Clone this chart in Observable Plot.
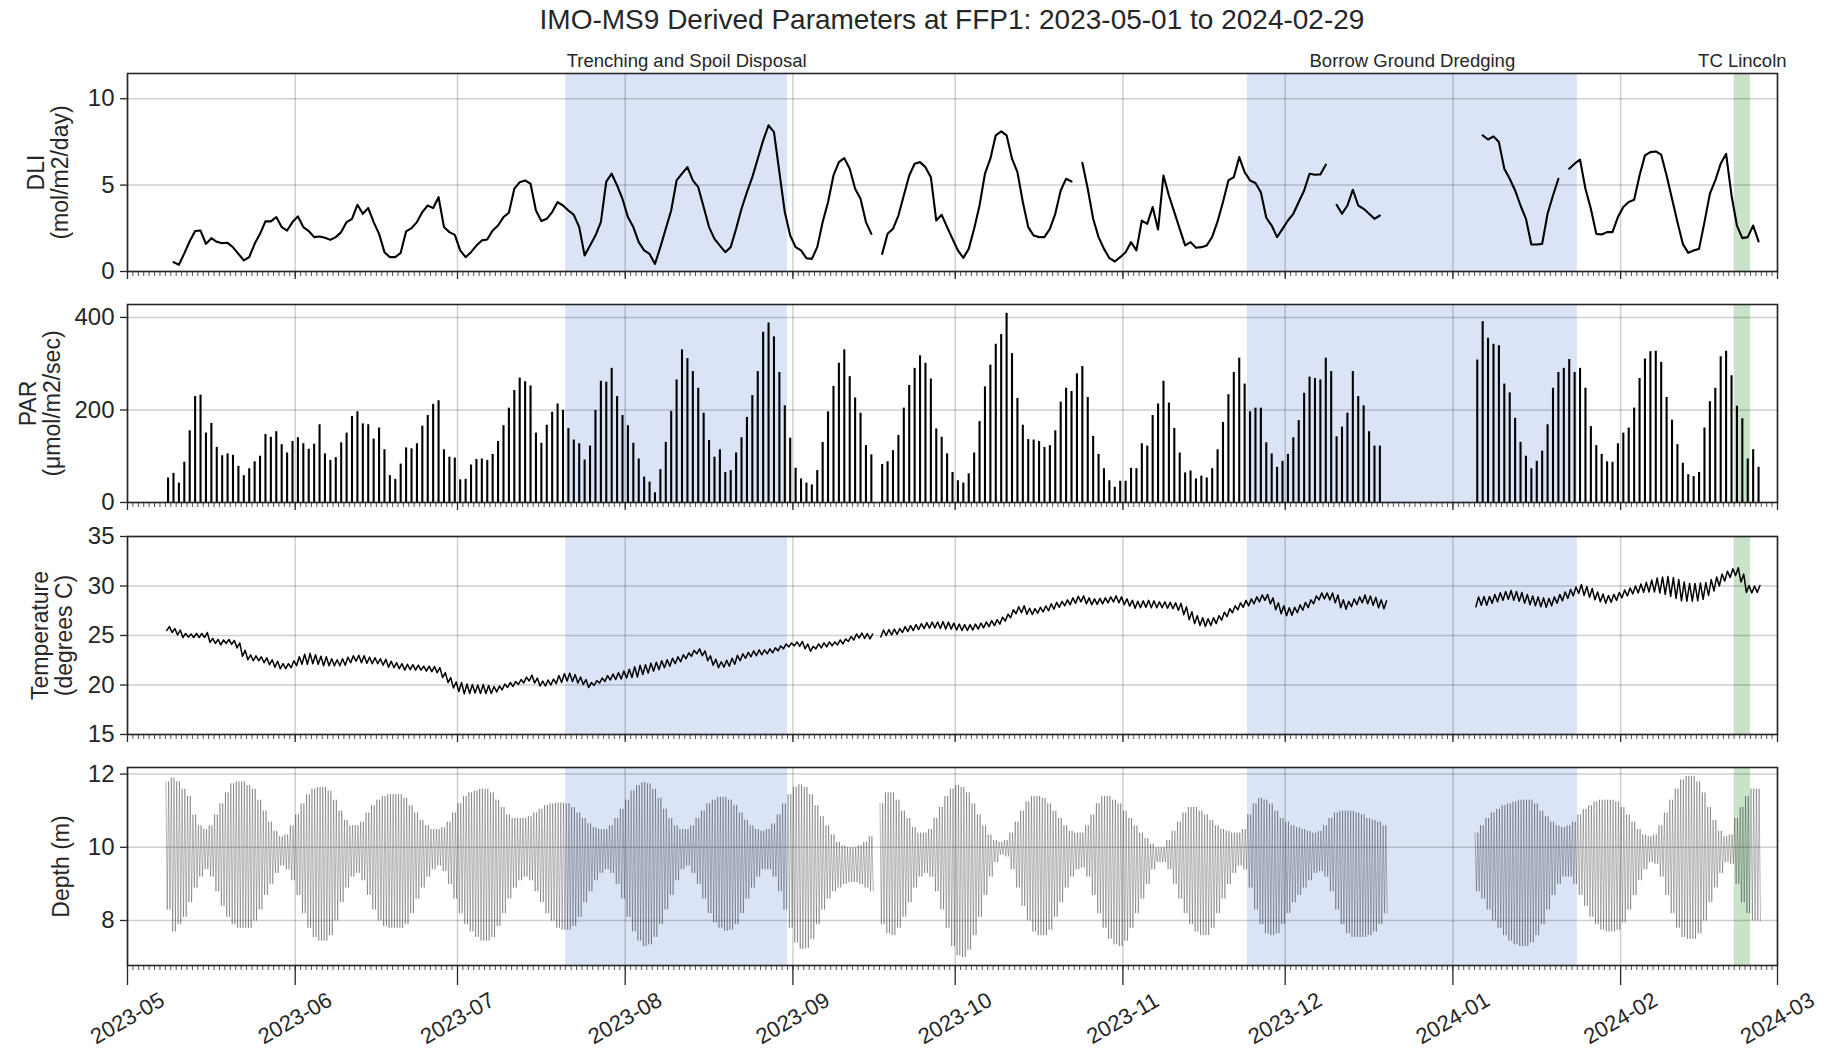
<!DOCTYPE html>
<html><head><meta charset="utf-8">
<script src="https://cdn.jsdelivr.net/npm/d3@7"></script>
<script src="https://cdn.jsdelivr.net/npm/@observablehq/plot@0.6"></script>
<style>
body{margin:0;background:#fff;font-family:"Liberation Sans",Arial,sans-serif;}
#wrap{position:relative;width:1827px;height:1049px;background:#fff;}
#title{position:absolute;left:127px;width:1650px;top:6px;text-align:center;font-size:28px;line-height:28px;color:#262626;}
.panel{position:absolute;left:0;}
</style></head><body><div id="wrap"><div id="title">IMO-MS9 Derived Parameters at FFP1: 2023-05-01 to 2024-02-29</div></div>
<script>
// ---------------- data ----------------
const xStart = "2023-05-01", xEnd = "2024-03-01";
const monthTicks = ["2023-05","2023-06","2023-07","2023-08","2023-09","2023-10","2023-11","2023-12","2024-01","2024-02","2024-03"];
const dliTicks = [0, 5, 10];
const parTicks = [0, 200, 400];
const tempTicks = [15, 20, 25, 30, 35];
const depthTicks = [8, 10, 12];

const periodNames = ["Trenching and Spoil Disposal", "Borrow Ground Dredging", "TC Lincoln"];
const periodStarts = ["2023-07-21", "2023-11-24", "2024-02-22"];
const periodEnds = ["2023-08-31", "2024-01-24", "2024-02-25"];
const periodKinds = ["works", "works", "cyclone"];

// daily light integral, one value per day from 2023-05-09
const dliStart = "2023-05-09";
const dli = [
0.54,0.39,1.05,1.75,2.34,2.37,1.6,1.93,1.72,1.64,
1.66,1.4,1.02,0.64,0.83,1.6,2.18,2.9,2.9,3.15,
2.57,2.37,2.86,3.19,2.57,2.34,1.99,2.03,1.95,1.83,
1.99,2.28,2.86,3.05,3.86,3.34,3.67,2.86,2.18,1.12,
0.83,0.83,1.08,2.32,2.51,2.86,3.44,3.82,3.67,4.3,
2.57,2.28,2.12,1.22,0.83,1.12,1.5,1.8,1.85,2.37,
2.66,3.15,3.4,4.79,5.17,5.27,5.08,3.53,2.92,3.05,
3.44,4.02,3.82,3.53,3.28,2.57,0.93,1.5,2.08,2.86,
5.2,5.66,4.98,4.2,3.15,2.57,1.7,1.22,1.02,0.44,
1.41,2.47,3.53,5.27,5.66,6.04,5.27,4.88,3.73,2.57,
1.89,1.5,1.12,1.41,2.47,3.63,4.59,5.46,6.53,7.59,
8.46,8.07,5.75,3.44,2.08,1.41,1.22,0.77,0.73,1.41,
2.86,4.02,5.56,6.33,6.56,5.95,4.79,4.21,2.86,2.18,
null,1.02,2.18,2.47,3.24,4.4,5.56,6.24,6.33,6.04,
5.46,2.95,3.28,2.57,1.89,1.22,0.79,1.31,2.47,3.82,
5.66,6.53,7.88,8.11,7.88,6.53,5.75,4.02,2.57,2.08,
1.99,1.99,2.47,3.34,4.69,5.37,5.21,null,6.29,4.79,
3.05,1.99,1.31,0.77,0.58,0.83,1.12,1.7,1.22,2.95,
2.76,3.73,2.43,5.56,4.4,3.44,2.47,1.51,1.7,1.37,
1.41,1.51,2.0,2.9,4.02,5.27,5.46,6.62,5.75,5.27,
5.12,4.59,3.11,2.66,1.99,2.47,2.95,3.34,4.02,4.69,
5.66,5.6,5.62,6.18,null,3.86,3.34,3.82,4.73,3.82,
3.63,3.34,3.05,3.24,null,null,null,null,null,null,
null,null,null,null,null,null,null,null,null,null,
null,null,7.88,7.64,7.82,7.49,5.95,5.37,4.69,3.82,
3.05,1.56,1.56,1.6,3.34,4.4,5.37,null,5.95,6.24,
6.47,4.79,3.63,2.18,2.14,2.28,2.28,3.15,3.73,4.02,
4.15,5.56,6.72,6.91,6.95,6.76,5.56,4.21,2.86,1.6,
1.08,1.22,1.31,2.86,4.5,5.27,6.24,6.81,4.4,2.66,
1.93,1.99,2.66,1.74
];

// the following series have one entry per day from 2023-05-08
const seriesStart = "2023-05-08";
// daily PAR peak (umol/m2/sec)
const parPeak = [
53,63,42,87,155,229,232,150,171,119,
101,105,102,78,58,73,88,100,147,141,
153,125,107,132,140,127,115,126,168,105,
91,97,129,150,186,196,170,168,137,161,
114,58,50,83,118,116,127,165,188,212,
220,114,98,96,49,50,81,93,94,91,
104,132,166,204,242,269,261,252,150,128,
167,195,213,199,160,135,127,92,122,199,
262,260,290,229,188,166,128,94,55,44,
21,71,130,197,265,330,311,283,247,193,
134,98,114,65,69,107,140,184,231,283,
368,388,358,281,209,139,74,51,42,38,
69,130,196,251,301,330,272,226,193,123,
103,null,82,88,112,145,204,253,290,317,
301,267,159,141,105,65,47,42,62,107,
175,250,297,342,363,409,322,225,167,136,
135,132,119,123,155,217,247,240,278,294,
227,143,104,73,47,33,46,46,74,73,
127,122,188,213,262,215,160,107,64,68,
51,57,53,73,114,173,233,281,312,256,
196,204,204,129,105,76,89,104,140,177,
236,271,268,265,312,283,142,163,193,283,
229,209,153,122,122,null,null,null,null,null,
null,null,null,null,null,null,null,null,null,null,
null,null,308,391,355,342,339,256,237,182,
130,100,73,89,111,168,247,281,290,309,
281,290,247,164,123,104,88,87,127,150,
161,204,268,310,326,327,303,227,178,125,
85,60,56,65,161,218,247,315,327,274,
208,181,94,114,76
];
// daily mean water temperature (degrees C)
const tempMean = [
25.7,25.5,25.3,25.0,25.0,25.0,25.0,25.05,24.5,24.4,
24.3,24.4,24.3,24.0,23.2,22.8,22.7,22.65,22.5,22.3,
22.1,21.9,21.9,22.1,22.4,22.6,22.65,22.6,22.5,22.4,
22.3,22.25,22.3,22.4,22.6,22.7,22.6,22.5,22.45,22.4,
22.3,22.1,22.0,21.9,21.8,21.8,21.75,21.7,21.65,21.6,
21.5,21.0,20.5,20.0,19.8,19.6,19.6,19.6,19.6,19.55,
19.5,19.6,19.8,20.0,20.1,20.3,20.5,20.7,20.45,20.15,
20.2,20.3,20.55,20.7,20.8,20.7,20.5,20.3,20.0,20.2,
20.45,20.65,20.8,20.9,21.0,21.15,21.3,21.4,21.55,21.7,
21.85,22.0,22.15,22.3,22.5,22.7,22.95,23.2,23.4,23.2,
22.7,22.3,22.05,22.15,22.3,22.55,22.8,23.0,23.15,23.25,
23.3,23.4,23.5,23.7,23.9,24.05,24.15,24.15,23.9,23.65,
23.9,24.0,24.1,24.15,24.3,24.4,24.65,24.85,25.0,24.95,
24.9,null,25.2,25.3,25.35,25.4,25.6,25.7,25.8,25.9,
26.0,26.05,26.07,26.05,26.0,25.95,25.85,25.8,25.8,25.85,
25.95,26.07,26.2,26.3,26.5,26.8,27.2,27.55,27.65,27.45,
27.42,27.55,27.68,27.85,28.0,28.15,28.3,28.45,28.6,28.7,
28.5,28.4,28.45,28.5,28.6,28.7,28.6,28.4,28.25,28.1,
28.15,28.2,28.15,28.1,28.1,28.05,28.0,27.9,27.5,27.0,
26.6,26.4,26.3,26.4,26.6,26.95,27.3,27.65,27.95,28.2,
28.35,28.55,28.75,28.85,28.5,27.95,27.6,27.4,27.45,27.7,
27.95,28.2,28.6,28.95,29.0,28.95,28.7,28.2,28.05,28.3,
28.5,28.7,28.6,28.45,28.2,28.1,null,null,null,null,
null,null,null,null,null,null,null,null,null,null,
null,null,28.4,28.5,28.5,28.7,28.86,29.0,29.1,29.0,
28.9,28.7,28.55,28.45,28.35,28.3,28.45,28.7,28.95,29.2,
29.45,29.7,29.5,29.3,29.0,28.8,28.65,28.75,28.95,29.2,
29.4,29.6,29.75,29.87,30.0,30.1,30.1,30.05,29.9,29.7,
29.45,29.36,29.36,29.4,29.5,29.85,30.2,30.6,31.0,31.3,
31.45,30.8,29.7,29.65,29.7
];
// daily temperature swing (max - min, degrees C)
const tempSwing = [
0.4,0.4,0.5,0.4,0.3,0.4,0.4,0.5,0.4,0.4,
0.5,0.4,0.4,0.5,0.6,0.5,0.5,0.4,0.5,0.5,
0.6,0.5,0.5,0.7,0.9,1.0,1.1,0.9,0.8,0.9,
0.7,0.6,0.7,0.8,0.7,0.6,0.7,0.6,0.6,0.5,
0.6,0.6,0.5,0.5,0.6,0.5,0.5,0.4,0.5,0.5,
0.5,0.5,0.5,0.6,0.9,1.0,0.9,0.8,0.9,0.8,
0.7,0.6,0.6,0.5,0.5,0.5,0.6,0.6,0.5,0.5,
0.6,0.6,0.8,0.9,0.8,0.7,0.6,0.5,0.5,0.5,
0.5,0.6,0.6,0.7,0.8,0.9,1.1,1.2,1.0,1.0,
0.9,0.9,0.8,0.8,0.7,0.7,0.6,0.6,0.5,0.5,
0.5,0.6,0.6,0.7,0.8,0.9,0.7,0.6,0.6,0.6,
0.5,0.5,0.5,0.5,0.5,0.4,0.4,0.5,0.5,0.5,
0.5,0.5,0.5,0.4,0.5,0.5,0.5,0.6,0.5,0.5,
0.5,null,0.7,0.6,0.6,0.6,0.6,0.6,0.6,0.6,
0.6,0.6,0.6,0.7,0.7,0.6,0.6,0.6,0.6,0.6,
0.6,0.6,0.6,0.6,0.7,0.7,0.8,0.7,0.7,0.6,
0.6,0.6,0.6,0.7,0.7,0.6,0.6,0.7,0.7,0.6,
0.6,0.6,0.6,0.6,0.6,0.6,0.6,0.6,0.6,0.7,
0.7,0.7,0.7,0.6,0.6,0.6,0.6,0.7,0.8,0.8,
0.8,0.8,0.8,0.8,0.8,0.8,0.8,0.7,0.7,0.7,
0.7,0.7,0.7,0.6,0.6,0.7,0.8,0.8,0.8,0.8,
0.8,0.8,0.8,0.7,0.6,0.7,0.8,0.8,0.8,0.8,
0.8,0.8,0.8,0.8,0.8,0.8,null,null,null,null,
null,null,null,null,null,null,null,null,null,null,
null,null,1.0,0.9,0.9,0.9,0.9,0.9,0.9,0.9,
0.9,0.9,0.9,0.9,0.9,0.9,0.9,0.9,0.9,0.9,
0.9,0.9,0.9,0.9,0.8,0.8,0.8,0.8,0.8,0.8,
0.8,0.8,0.9,1.0,1.2,1.4,1.6,1.8,1.9,1.9,
1.9,1.8,1.8,1.8,1.7,1.6,1.4,1.2,1.0,0.9,
0.8,0.8,0.7,0.7,0.7
];
// daily high-water depth (m)
const depthHigh = [
11.8,11.9,11.8,11.6,11.4,10.9,10.6,10.5,10.6,10.9,
11.2,11.5,11.75,11.8,11.8,11.7,11.6,11.3,11.0,10.7,
10.45,10.3,10.35,10.6,10.9,11.2,11.45,11.6,11.65,11.65,
11.55,11.3,11.0,10.75,10.6,10.6,10.7,10.95,11.15,11.3,
11.4,11.45,11.45,11.45,11.35,11.15,10.95,10.75,10.6,10.5,
10.5,10.55,10.7,10.95,11.2,11.4,11.5,11.55,11.6,11.6,
11.5,11.3,11.1,10.9,10.8,10.8,10.8,10.85,10.95,11.05,
11.15,11.2,11.22,11.22,11.2,11.1,10.95,10.8,10.65,10.55,
10.5,10.5,10.6,10.8,11.05,11.3,11.55,11.7,11.78,11.75,
11.6,11.35,11.05,10.8,10.6,10.5,10.5,10.6,10.8,11.0,
11.2,11.3,11.38,11.38,11.3,11.15,10.95,10.75,10.6,10.5,
10.45,10.5,10.65,10.9,11.2,11.45,11.65,11.72,11.65,11.45,
11.15,10.85,10.6,10.35,10.15,10.05,10.0,10.0,10.05,10.15,
10.3,null,11.2,11.5,11.5,11.3,11.0,10.8,10.55,10.4,
10.4,10.5,10.8,11.1,11.4,11.6,11.7,11.65,11.5,11.2,
10.9,10.6,10.35,10.2,10.15,10.2,10.4,10.7,11.0,11.25,
11.4,11.4,11.35,11.2,11.0,10.8,10.6,10.45,10.4,10.4,
10.6,10.9,11.2,11.4,11.4,11.3,11.2,11.0,10.8,10.6,
10.4,10.25,10.1,10.0,10.0,10.2,10.45,10.7,10.95,11.1,
11.1,11.0,10.9,10.75,10.6,10.5,10.45,10.4,10.4,10.5,
10.9,11.2,11.35,11.3,11.2,11.0,10.8,10.7,10.6,10.55,
10.5,10.45,10.4,10.45,10.6,10.8,10.95,11.0,11.0,11.0,
10.95,10.9,10.8,10.75,10.7,10.6,null,null,null,null,
null,null,null,null,null,null,null,null,null,null,
null,null,10.4,10.6,10.8,10.95,11.05,11.15,11.2,11.25,
11.3,11.3,11.3,11.2,11.0,10.85,10.7,10.6,10.55,10.6,
10.7,10.9,11.05,11.15,11.25,11.3,11.3,11.3,11.25,11.1,
10.9,10.7,10.5,10.35,10.3,10.35,10.6,10.95,11.3,11.6,
11.85,11.95,11.95,11.8,11.5,11.1,10.75,10.45,10.3,10.35,
10.8,11.1,11.4,11.6,11.6
];
// daily low-water depth (m)
const depthLow = [
8.3,7.7,7.9,8.1,8.5,8.9,9.2,9.4,9.2,8.8,
8.4,8.1,7.9,7.8,7.8,7.8,8.0,8.3,8.7,9.0,
9.3,9.5,9.4,9.1,8.7,8.2,7.8,7.55,7.45,7.45,
7.6,8.0,8.5,8.9,9.2,9.3,9.1,8.7,8.3,8.0,
7.85,7.8,7.8,7.8,7.9,8.2,8.6,8.9,9.2,9.4,
9.5,9.35,9.0,8.6,8.2,7.9,7.7,7.55,7.45,7.45,
7.55,7.85,8.2,8.6,8.9,9.1,9.2,9.1,8.8,8.5,
8.2,8.0,7.8,7.75,7.75,7.85,8.1,8.5,8.8,9.1,
9.3,9.4,9.3,9.0,8.6,8.1,7.7,7.45,7.3,7.35,
7.55,7.9,8.3,8.7,9.1,9.4,9.5,9.3,9.0,8.6,
8.2,7.95,7.8,7.72,7.75,7.9,8.2,8.6,8.9,9.2,
9.4,9.4,9.2,8.8,8.3,7.8,7.4,7.22,7.25,7.5,
7.9,8.3,8.6,8.8,8.9,9.0,9.05,9.05,9.0,8.9,
8.8,null,7.9,7.65,7.6,7.8,8.1,8.5,8.9,9.2,
9.3,9.2,8.8,8.3,7.8,7.3,7.05,7.0,7.2,7.6,
8.1,8.7,9.2,9.6,9.8,9.75,9.4,8.9,8.4,8.0,
7.7,7.6,7.6,7.75,8.1,8.5,8.9,9.2,9.4,9.45,
9.2,8.7,8.2,7.8,7.5,7.35,7.3,7.45,7.8,8.2,
8.6,9.0,9.4,9.6,9.6,9.4,9.0,8.6,8.2,7.9,
7.7,7.6,7.6,7.8,8.2,8.6,9.0,9.3,9.5,9.4,
8.9,8.3,7.9,7.65,7.6,7.65,7.9,8.2,8.5,8.7,
8.9,9.1,9.3,9.35,9.2,8.8,8.3,7.9,7.65,7.55,
7.55,7.55,7.6,7.7,7.9,8.2,null,null,null,null,
null,null,null,null,null,null,null,null,null,null,
null,null,8.8,8.6,8.3,8.0,7.8,7.6,7.45,7.35,
7.3,7.3,7.4,7.6,7.9,8.3,8.7,9.0,9.2,9.2,
9.0,8.7,8.4,8.1,7.9,7.75,7.7,7.7,7.75,7.95,
8.3,8.7,9.1,9.4,9.6,9.55,9.2,8.7,8.2,7.8,
7.55,7.5,7.5,7.65,8.0,8.5,8.9,9.3,9.6,9.55,
9.0,8.5,8.2,8.0,8.0
];

// ---------------- build ----------------
const parseDay = d3.utcParse("%Y-%m-%d");
const parseMonth = d3.utcParse("%Y-%m");
const addDays = (date, n) => new Date(+date + n * 864e5);
const x0 = parseDay(xStart), x1 = parseDay(xEnd);
const months = monthTicks.map(parseMonth);
const days = d3.utcDay.range(x0, addDays(x1, 1));
const dS = parseDay(dliStart), sS = parseDay(seriesStart);

const periods = periodNames.map((name, i) => {
  const s = parseDay(periodStarts[i]), e = parseDay(periodEnds[i]);
  return {name, kind: periodKinds[i], start: s, end: e, mid: new Date((+s + +e) / 2)};
});

const dliData = dli.map((v, i) => ({date: addDays(dS, i + 0.5), value: v}));
const parData = parPeak.map((v, i) => ({date: addDays(sS, i + 0.5), value: v})).filter(d => d.value != null);
const tempData = tempMean.flatMap((m, i) => m == null
  ? [{date: addDays(sS, i + 0.25), value: null}]
  : [{date: addDays(sS, i + 0.25), value: m - tempSwing[i] / 2}, {date: addDays(sS, i + 0.75), value: m + tempSwing[i] / 2}]);
// two tides a day, each drawn with that day's high and low water
const depthData = depthHigh.flatMap((h, i) => h == null
  ? [{date: addDays(sS, i + 0.1), value: null}]
  : [{date: addDays(sS, i + 0.1), value: h}, {date: addDays(sS, i + 0.35), value: depthLow[i]},
     {date: addDays(sS, i + 0.6), value: h}, {date: addDays(sS, i + 0.85), value: depthLow[i]}]);

const FONT = '"Liberation Sans", Arial, Helvetica, sans-serif';
const INK = "#262626";
const FRAME_H = 198;

function panel({top, marginTop, marginBottom, yDomain, yTicks, label, labelX, marks, bottom, annotate}) {
  const chart = Plot.plot({
    width: 1827,
    height: marginTop + FRAME_H + marginBottom,
    marginLeft: 127, marginRight: 50, marginTop, marginBottom,
    x: {type: "utc", domain: [x0, x1], axis: null},
    y: {domain: yDomain, axis: null},
    style: {fontFamily: FONT, color: INK, background: "transparent", overflow: "visible"},
    marks: [
      Plot.rect(periods.filter(d => d.kind === "works"), {x1: "start", x2: "end", fill: "#dbe4f7"}),
      Plot.rect(periods.filter(d => d.kind === "cyclone"), {x1: "start", x2: "end", fill: "#c8e3c8"}),
      Plot.gridY(yTicks, {stroke: "#000", strokeOpacity: 0.19, strokeWidth: 1.5}),
      Plot.gridX(months, {stroke: "#000", strokeOpacity: 0.19, strokeWidth: 1.5}),
      ...marks,
      Plot.frame({stroke: INK, strokeWidth: 1.6}),
      Plot.axisY(yTicks, {anchor: "left", tickSize: 7, tickPadding: 6, fontSize: 24, label: null, strokeWidth: 1.3}),
      Plot.axisX(days, {anchor: "bottom", tickSize: 5, tickPadding: 0, tickFormat: () => "", label: null, strokeWidth: 0.8}),
      Plot.axisX(months, {anchor: "bottom", tickSize: bottom ? 20 : 8, tickFormat: () => "", label: null, strokeWidth: 1.3}),
      Plot.text([label], {frameAnchor: "left", dx: labelX - 127, rotate: -90, fontSize: 23, lineHeight: 1.05, textAnchor: "middle", lineAnchor: "middle", fill: INK}),
      ...(bottom ? [Plot.text(monthTicks, {x: d => parseMonth(d), text: d => d, frameAnchor: "bottom", dy: 53, rotate: -30, fontSize: 22, textAnchor: "middle", lineAnchor: "middle", fill: INK})] : []),
      ...(annotate ? [
        Plot.text(periods.slice(0, 1), {x: "mid", text: "name", frameAnchor: "top", dy: -7, dx: 10, lineAnchor: "bottom", fontSize: 18.5, fill: INK}),
        Plot.text(periods.slice(1), {x: "mid", text: "name", frameAnchor: "top", dy: -7, lineAnchor: "bottom", fontSize: 18.5, fill: INK})
      ] : [])
    ]
  });
  chart.classList.add("panel");
  chart.style.top = top + "px";
  document.getElementById("wrap").appendChild(chart);
}

panel({top: 38, marginTop: 35, marginBottom: 12, yDomain: [0, 11.46], yTicks: dliTicks,
  label: "DLI\n(mol/m2/day)", labelX: 48, annotate: true,
  marks: [Plot.line(dliData, {x: "date", y: "value", stroke: "#000", strokeWidth: 2.1})]});

panel({top: 294, marginTop: 10, marginBottom: 12, yDomain: [0, 428], yTicks: parTicks,
  label: "PAR\n(\u03bcmol/m2/sec)", labelX: 40,
  marks: [Plot.ruleX(parData, {x: "date", y1: 0, y2: "value", stroke: "#000", strokeWidth: 2.1})]});

panel({top: 526, marginTop: 10, marginBottom: 12, yDomain: [15, 35], yTicks: tempTicks,
  label: "Temperature\n(degrees C)", labelX: 52,
  marks: [Plot.line(tempData, {x: "date", y: "value", stroke: "#000", strokeWidth: 1.5})]});

panel({top: 757, marginTop: 10, marginBottom: 84, yDomain: [6.77, 12.18], yTicks: depthTicks,
  label: "Depth (m)", labelX: 61, bottom: true,
  marks: [Plot.line(depthData, {x: "date", y: "value", stroke: "#111", strokeWidth: 0.5, strokeOpacity: 0.62})]});
</script></body></html>
